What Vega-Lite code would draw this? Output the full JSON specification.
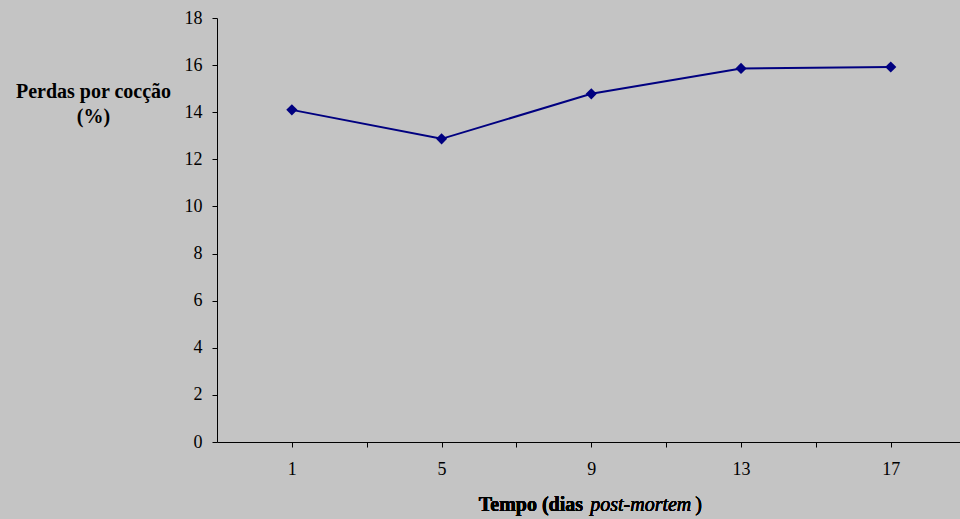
{
  "$schema": "https://vega.github.io/schema/vega-lite/v6.json",
  "width": 743,
  "height": 424,
  "autosize": {"type": "none"},
  "padding": {"left": 217, "top": 18, "right": 0, "bottom": 77},
  "background": "#c4c4c4",
  "config": {
    "view": {"stroke": null},
    "font": "Times New Roman, Liberation Serif, serif",
    "axis": {
      "labelFont": "Times New Roman, Liberation Serif, serif",
      "titleFont": "Times New Roman, Liberation Serif, serif",
      "labelColor": "#000000",
      "titleColor": "#000000",
      "domainColor": "#000000",
      "tickColor": "#000000",
      "domainWidth": 1,
      "tickWidth": 1,
      "tickSize": 5,
      "grid": false,
      "labelFontSize": 18
    }
  },
  "data": {
    "values": [
      {"dia": 1, "perdas": 14.1},
      {"dia": 5, "perdas": 12.87},
      {"dia": 9, "perdas": 14.78},
      {"dia": 13, "perdas": 15.86},
      {"dia": 17, "perdas": 15.92}
    ]
  },
  "layer": [
    {
      "mark": {"type": "line", "color": "#000080", "strokeWidth": 2},
      "encoding": {
        "x": {
          "field": "dia",
          "type": "quantitative",
          "scale": {"domain": [-1, 18.85], "nice": false, "zero": false},
          "axis": {
            "values": [1, 3, 5, 7, 9, 11, 13, 15, 17],
            "labelExpr": "datum.value % 4 == 1 ? datum.label : ''",
            "labelPadding": 13,
            "title": null
          }
        },
        "y": {
          "field": "perdas",
          "type": "quantitative",
          "scale": {"domain": [0, 18], "nice": false},
          "axis": {
            "values": [0, 2, 4, 6, 8, 10, 12, 14, 16, 18],
            "labelPadding": 10,
            "title": ["Perdas por cocção", "(%)"],
            "titleFontSize": 20,
            "titleFontWeight": "bold",
            "titleAngle": 0,
            "titleAlign": "center",
            "titleBaseline": "alphabetic",
            "titleLineHeight": 25,
            "titleX": -124,
            "titleY": 79
          }
        }
      }
    },
    {
      "mark": {"type": "point", "shape": "diamond", "filled": true, "color": "#000080", "size": 125, "opacity": 1},
      "encoding": {
        "x": {"field": "dia", "type": "quantitative"},
        "y": {"field": "perdas", "type": "quantitative"}
      }
    },
    {
      "mark": {"type": "text", "text": "Tempo (dias", "font": "Times New Roman, Liberation Serif, serif", "fontSize": 20, "fontWeight": "bold", "align": "right", "baseline": "alphabetic", "color": "#000000"},
      "encoding": {
        "x": {"datum": 8.78, "type": "quantitative"},
        "y": {"datum": -2.91, "type": "quantitative"}
      }
    },
    {
      "mark": {"type": "text", "text": "post-mortem", "font": "Times New Roman, Liberation Serif, serif", "fontSize": 20, "fontStyle": "italic", "align": "left", "baseline": "alphabetic", "color": "#000000"},
      "encoding": {
        "x": {"datum": 8.97, "type": "quantitative"},
        "y": {"datum": -2.91, "type": "quantitative"}
      }
    },
    {
      "mark": {"type": "text", "text": ")", "font": "Times New Roman, Liberation Serif, serif", "fontSize": 20, "align": "left", "baseline": "alphabetic", "color": "#000000"},
      "encoding": {
        "x": {"datum": 11.78, "type": "quantitative"},
        "y": {"datum": -2.91, "type": "quantitative"}
      }
    }
  ]
}
